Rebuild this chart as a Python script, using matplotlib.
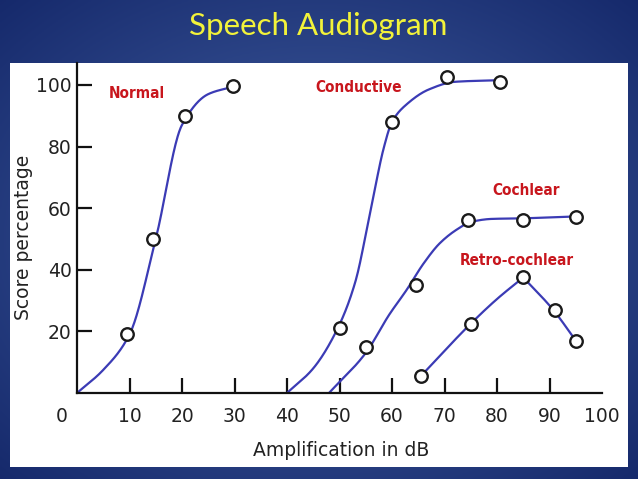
import numpy as np
import matplotlib
matplotlib.use('Agg')
import matplotlib.pyplot as plt
from matplotlib.patches import Rectangle
from matplotlib.transforms import ScaledTranslation

# Puntos medidos (circulos)
normal_x = [9.5, 14.5, 20.5, 29.7]
normal_y = [19, 50, 90, 99.5]
conductive_x = [50, 60, 70.5, 80.5]
conductive_y = [21, 88, 102.5, 101]
cochlear_x = [55, 64.5, 74.5, 85, 95]
cochlear_y = [15, 35, 56, 56, 57]
retro_x = [65.5, 75, 85, 91, 95]
retro_y = [5.5, 22.5, 37.5, 27, 17]

# Trazo de las curvas
normal_cx = [0, 5, 10, 15, 20, 25, 30]
normal_cy = [0, 7.5, 19, 50, 87, 97, 99.5]
conductive_cx = [40, 45, 49.8, 53, 56, 58.5, 60, 63, 67, 72, 80]
conductive_cy = [0, 8, 21.5, 36, 60, 80, 88, 94, 98.5, 101, 101.5]
cochlear_cx = [48, 55, 59.5, 62.8, 66, 69.1, 72.3, 75, 79, 85, 95]
cochlear_cy = [0, 13, 25.5, 33.5, 42, 48.6, 53, 55.5, 56.5, 56.7, 57.3]
# retro-coclear: subida hasta el pico y bajada
retro_sube_x = [65.5, 75, 80, 85]
retro_sube_y = [5.5, 22.5, 30.5, 37.5]
retro_baja_x = [85, 90.7, 95]
retro_baja_y = [37.5, 27, 17]

x_ticks = [0, 10, 20, 30, 40, 50, 60, 70, 80, 90, 100]
y_ticks = [20, 40, 60, 80, 100]

etiquetas = ['Normal', 'Conductive', 'Cochlear', 'Retro-cochlear']
etiq_x = [11.4, 53.6, 85.5, 83.7]
etiq_y = [97.3, 99.2, 65.6, 42.9]


def suavizar(x, y, n=300):
    # curva de Hermite monotona, solo para dibujar la linea
    x = np.asarray(x, float)
    y = np.asarray(y, float)
    h = np.diff(x)
    d = np.diff(y) / h
    m = np.zeros_like(y)
    m[0] = d[0]
    m[-1] = d[-1]
    for k in range(1, len(x) - 1):
        if d[k - 1] * d[k] > 0:
            w1 = 2 * h[k] + h[k - 1]
            w2 = h[k] + 2 * h[k - 1]
            m[k] = (w1 + w2) / (w1 / d[k - 1] + w2 / d[k])
    xs = np.linspace(x[0], x[-1], n)
    i = np.clip(np.searchsorted(x, xs) - 1, 0, len(h) - 1)
    t = (xs - x[i]) / h[i]
    h00 = 2 * t**3 - 3 * t**2 + 1
    h10 = t**3 - 2 * t**2 + t
    h01 = -2 * t**3 + 3 * t**2
    h11 = t**3 - t**2
    ys = h00 * y[i] + h10 * h[i] * m[i] + h01 * y[i + 1] + h11 * h[i] * m[i + 1]
    return xs, ys


fig = plt.figure(figsize=(6.38, 4.79), dpi=100)

# Fondo azul con degradado radial
bg = fig.add_axes([0, 0, 1, 1])
gx, gy = np.meshgrid(np.linspace(0, 1, 320), np.linspace(0, 1, 240))
r = np.sqrt(((gx - 0.5) / 0.75) ** 2 + ((gy - 0.5) / 0.75) ** 2)
r = np.clip(r, 0, 1)
c_centro = np.array([0x45, 0x63, 0xa6]) / 255
c_borde = np.array([0x13, 0x26, 0x68]) / 255
img = c_centro[None, None, :] * (1 - r[..., None]) + c_borde[None, None, :] * r[..., None]
bg.imshow(img, extent=[0, 1, 0, 1], aspect='auto', origin='lower')
bg.add_patch(Rectangle((10 / 638, 12 / 479), 618 / 638, 404 / 479,
                       facecolor='white', edgecolor='none'))
bg.set_xlim(0, 1)
bg.set_ylim(0, 1)
bg.axis('off')

fig.text(0.499, 0.927, 'Speech Audiogram', color='#f2f23a', fontsize=22.5,
         family='Lato', ha='center', va='baseline')

ax = fig.add_axes([77 / 638, 86 / 479, 525 / 638, 330 / 479])
ax.set_facecolor('none')

azul = '#3b3bb5'
for cx, cy in [(normal_cx, normal_cy), (conductive_cx, conductive_cy),
               (cochlear_cx, cochlear_cy), (retro_sube_x, retro_sube_y),
               (retro_baja_x, retro_baja_y)]:
    xs, ys = suavizar(cx, cy)
    ax.plot(xs, ys, color=azul, lw=1.6, zorder=2, solid_capstyle='round')

for px, py in [(normal_x, normal_y), (conductive_x, conductive_y),
               (cochlear_x, cochlear_y), (retro_x, retro_y)]:
    ax.plot(px, py, 'o', ms=9, mfc='white', mec='#1a1a1a', mew=1.7,
            ls='none', zorder=3)

for texto, tx, ty in zip(etiquetas, etiq_x, etiq_y):
    ax.text(tx, ty, texto, color='#c8161d', fontsize=11, fontweight='bold',
            family='DejaVu Sans', fontstretch='condensed',
            ha='center', va='center')

ax.set_xlim(0, 100)
ax.set_ylim(0, 107.1)
ax.spines['top'].set_visible(False)
ax.spines['right'].set_visible(False)
ax.spines['left'].set_linewidth(1.6)
ax.spines['bottom'].set_linewidth(1.6)
ax.spines['left'].set_color('#111111')
ax.spines['bottom'].set_color('#111111')

ax.set_xticks(x_ticks)
ax.set_xticklabels([str(v) for v in x_ticks])
ax.set_yticks(y_ticks)
ax.set_yticklabels([str(v) for v in y_ticks])
ax.tick_params(axis='both', direction='in', length=11, width=1.6,
               color='#111111', labelsize=13.5, labelcolor='#222222')
ax.tick_params(axis='x', pad=10)
ax.tick_params(axis='y', pad=4)

# sin marca en 0 y 100, y el "0" un poco a la izquierda
ticks = ax.xaxis.get_major_ticks()
ticks[0].tick1line.set_visible(False)
ticks[-1].tick1line.set_visible(False)
lab0 = ticks[0].label1
lab0.set_transform(lab0.get_transform() + ScaledTranslation(-0.15, 0, fig.dpi_scale_trans))

ax.set_xlabel('Amplification in dB', fontsize=13.5, color='#222222')
ax.set_ylabel('Score percentage', fontsize=13.5, color='#222222')
ax.xaxis.set_label_coords(0.503, -0.145)
ax.yaxis.set_label_coords(-0.084, 0.473)

fig.savefig('out.png', dpi=100)
